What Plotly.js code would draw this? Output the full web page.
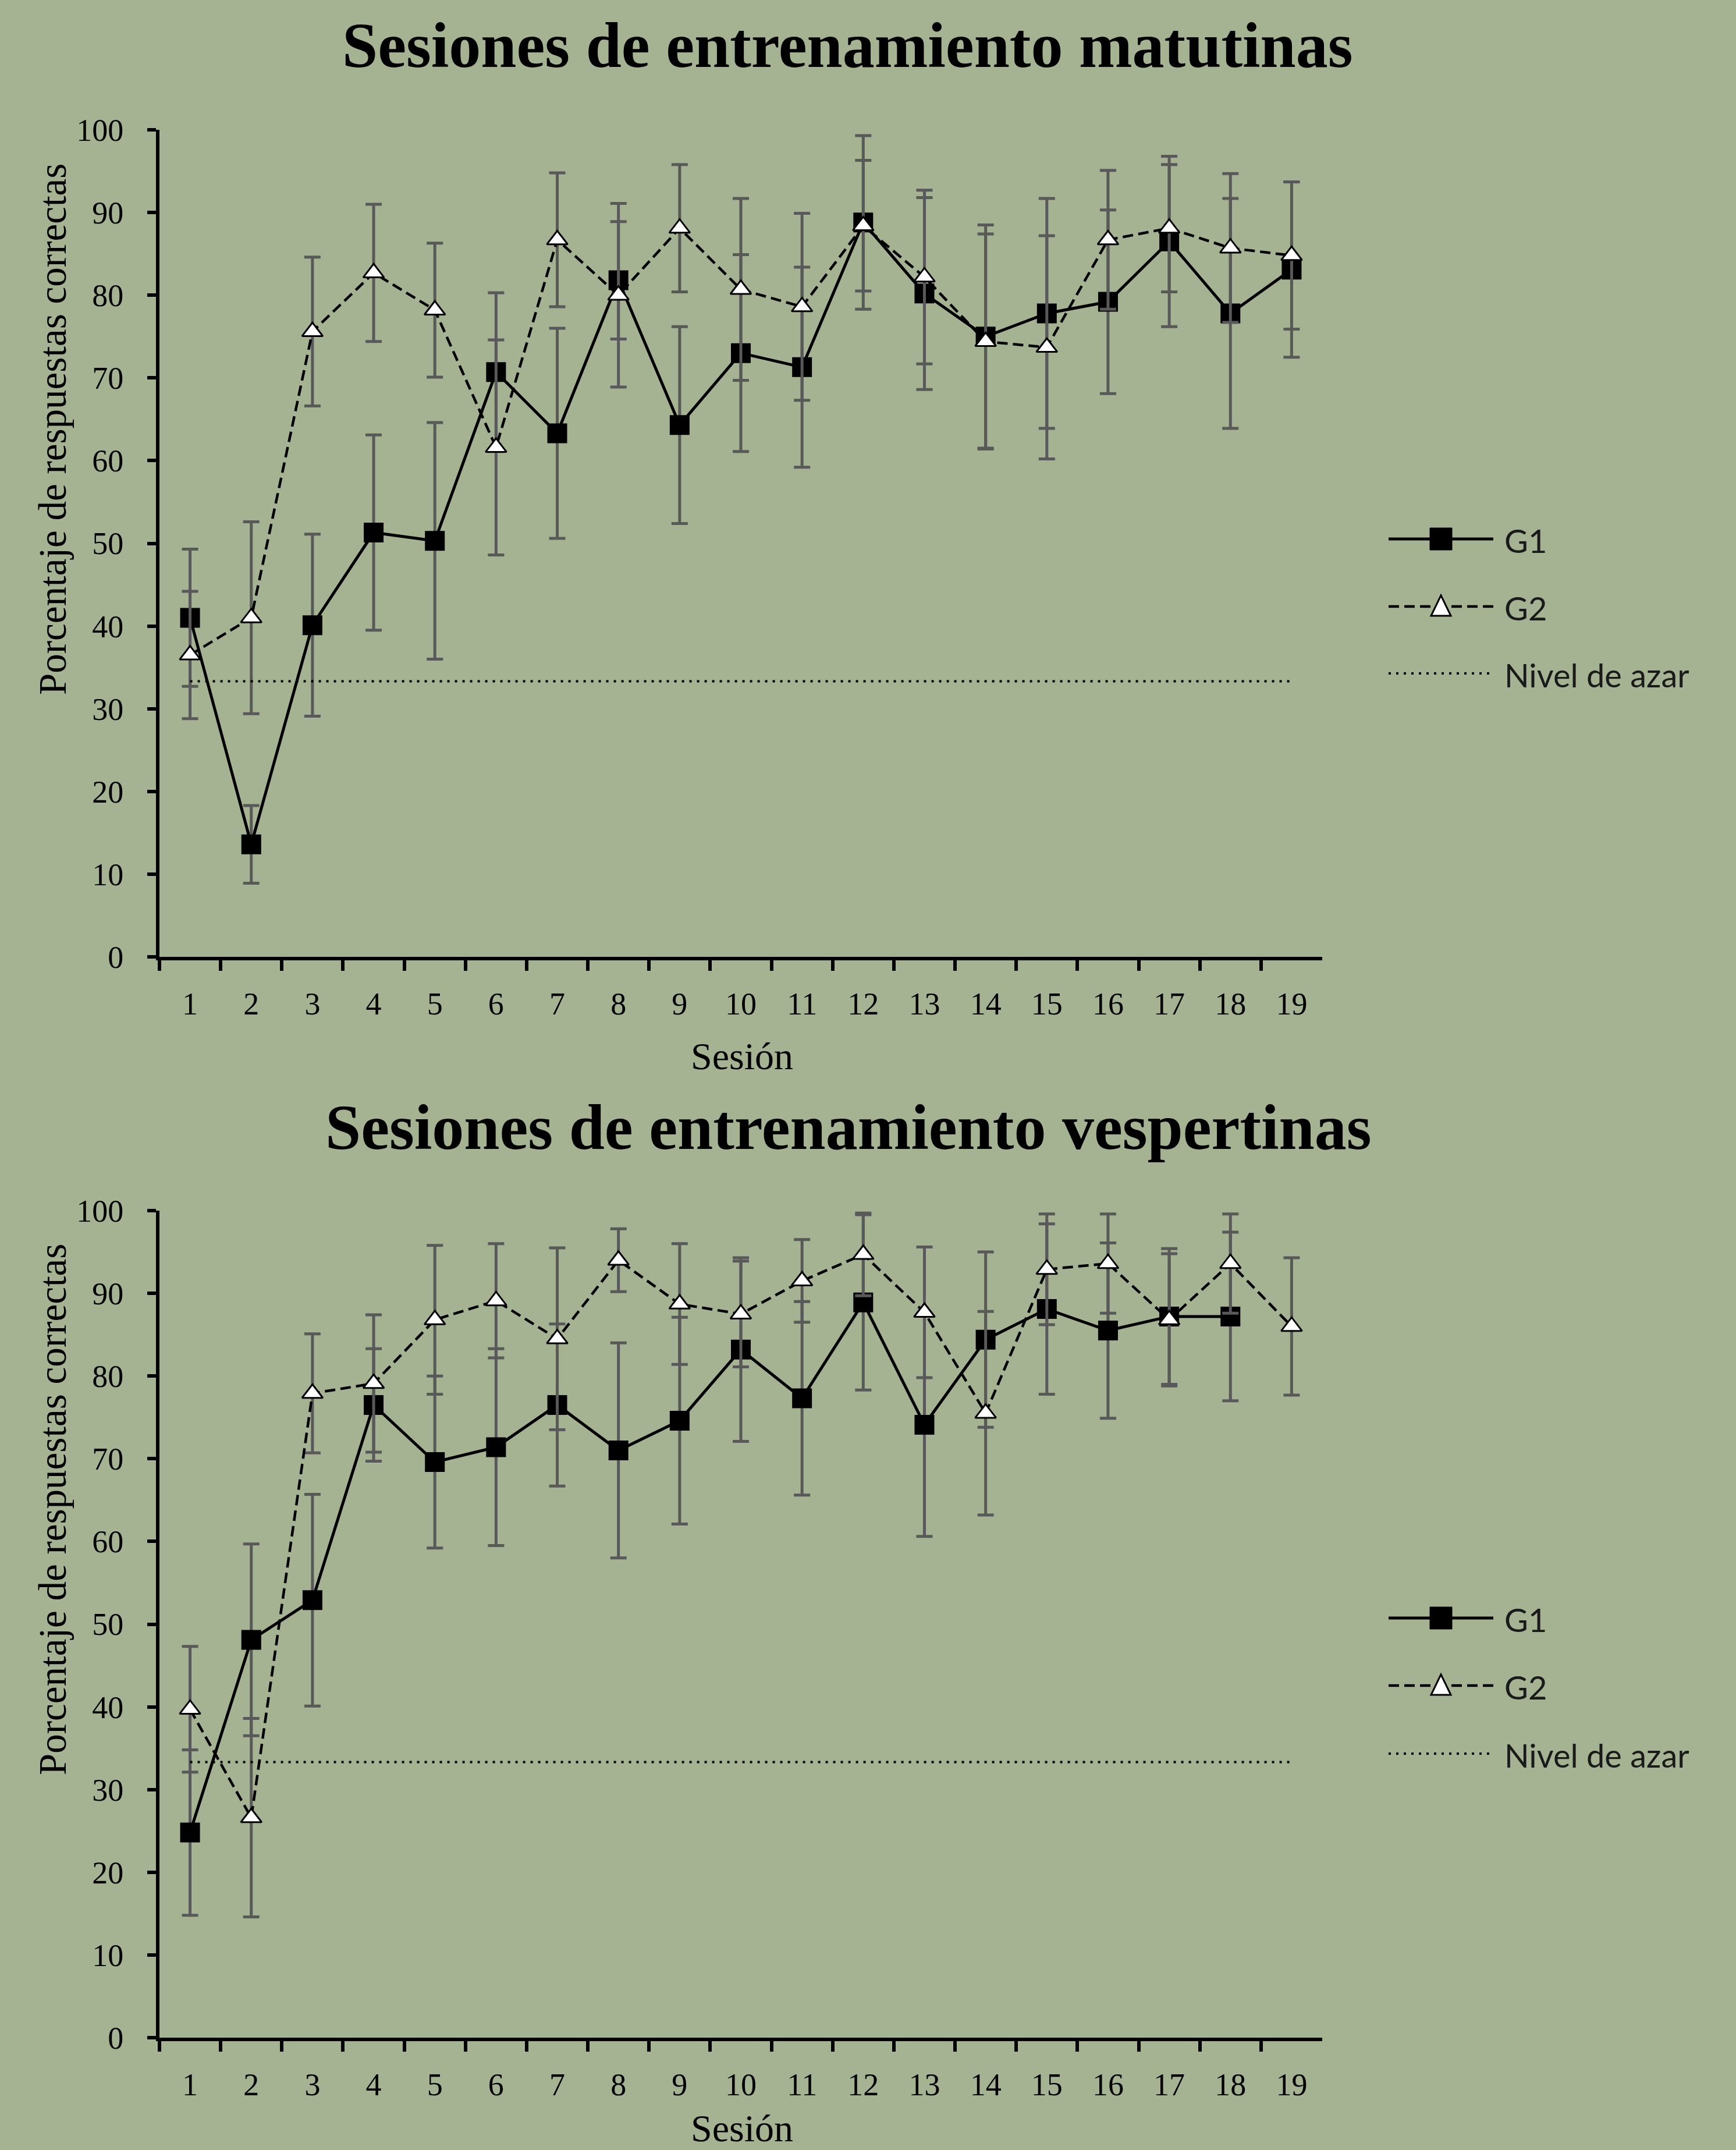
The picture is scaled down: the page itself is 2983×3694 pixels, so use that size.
<!DOCTYPE html>
<html>
<head>
<meta charset="utf-8">
<script src="https://cdn.plot.ly/plotly-3.0.1.min.js"></script>
<style>html,body{margin:0;padding:0;background:#a5b392;}#chart{width:2983px;height:3694px;}</style>
</head>
<body>
<div id="chart"></div>
<script>
// ---- data ----
const sessions = ["1","2","3","4","5","6","7","8","9","10","11","12","13","14","15","16","17","18","19"];

// Sesiones matutinas
const morningG1 = [41.0, 13.6, 40.1, 51.3, 50.3, 70.7, 63.3, 81.8, 64.3, 73.0, 71.3, 88.8, 80.2, 75.0, 77.8, 79.2, 86.5, 77.8, 83.1];
const morningG1Err = [8.3, 4.7, 11.0, 11.8, 14.3, 9.6, 12.7, 7.1, 11.9, 11.9, 12.1, 10.5, 11.6, 13.5, 13.9, 11.1, 10.3, 13.9, 10.6];
const morningG2 = [36.5, 41.0, 75.6, 82.7, 78.2, 61.6, 86.7, 80.0, 88.1, 80.7, 78.6, 88.4, 82.2, 74.4, 73.7, 86.7, 88.1, 85.7, 84.8];
const morningG2Err = [7.7, 11.6, 9.0, 8.3, 8.1, 13.0, 8.1, 11.1, 7.7, 11.0, 11.3, 7.9, 10.5, 13.0, 13.5, 8.4, 7.7, 9.0, 8.9];

// Sesiones vespertinas
const eveningG1 = [24.8, 48.1, 52.9, 76.5, 69.6, 71.4, 76.5, 71.0, 74.6, 83.2, 77.3, 88.9, 74.1, 84.4, 88.1, 85.5, 87.2, 87.2];
const eveningG1Err = [10.0, 11.6, 12.8, 6.8, 10.4, 11.9, 9.8, 13.0, 12.5, 11.1, 11.7, 10.6, 13.5, 10.6, 10.3, 10.6, 8.2, 10.2];
const eveningG2 = [39.7, 26.6, 77.9, 79.1, 86.8, 89.1, 84.5, 94.0, 88.7, 87.5, 91.5, 94.7, 87.7, 75.5, 92.9, 93.6, 86.8, 93.6, 86.0];
const eveningG2Err = [7.6, 12.0, 7.2, 8.3, 9.0, 6.9, 11.0, 3.8, 7.3, 6.4, 5.0, 5.0, 7.9, 12.3, 6.7, 6.0, 8.0, 6.0, 8.3];

// Nivel de azar
const chanceX = ["1", "19"];
const chanceY = [33.33, 33.33];

const titles = ["Sesiones de entrenamiento matutinas", "Sesiones de entrenamiento vespertinas"];
const yLabel = "Porcentaje de respuestas correctas";
const xLabel = "Sesión";
const seriesNames = ["G1", "G2", "Nivel de azar"];

// ---- styles ----
const BG = "#a5b392";
const ERR = "#595959";
const SERIF = "Liberation Serif, Times New Roman, serif";
const SANS = "Lato, Liberation Sans, sans-serif";
const G1_LINE = {color:"#000", width:5};
const G2_LINE = {color:"#000", width:4.5, dash:"18px,9px"};
const CH_LINE = {color:"#000", width:4, dash:"4px,9px"};

function errY(arr){ return {type:"data", array:arr, visible:true, color:ERR, thickness:5, width:14}; }

function groupTraces(g1, g1e, g2, g2e, xa, ya){
  return [
    {x: sessions.slice(0, g1.length), y: g1, name: seriesNames[0], type:"scatter", mode:"lines+markers",
     xaxis:xa, yaxis:ya, showlegend:false,
     line:G1_LINE, marker:{symbol:"square", size:32, color:"#000", line:{color:"#000", width:2}},
     error_y: errY(g1e)},
    {x: sessions.slice(0, g2.length), y: g2, name: seriesNames[1], type:"scatter", mode:"lines+markers",
     xaxis:xa, yaxis:ya, showlegend:false,
     line:G2_LINE, marker:{symbol:"triangle-up", size:31, color:"#fff", line:{color:"#000", width:3}},
     error_y: errY(g2e)},
    {x: chanceX, y: chanceY, name: seriesNames[2], type:"scatter", mode:"lines",
     xaxis:xa, yaxis:ya, showlegend:false, line:CH_LINE}
  ];
}

const data = [].concat(
  groupTraces(morningG1, morningG1Err, morningG2, morningG2Err, "x", "y"),
  groupTraces(eveningG1, eveningG1Err, eveningG2, eveningG2Err, "x2", "y2")
);

const W = 2983, H = 3694;
const px = v => v / W;
const py = v => 1 - v / H;

function xAxis(anchor){
  return {type:"category", categoryorder:"array", categoryarray:sessions, range:[-0.5, 18.5],
    domain:[px(274), px(2272)], anchor:anchor, tickson:"boundaries",
    ticks:"outside", ticklen:18, tickwidth:6, tickcolor:"#000",
    showline:true, linewidth:6, linecolor:"#000", showgrid:false, zeroline:false,
    tickfont:{family:SERIF, size:54, color:"#000"}, ticklabelstandoff:28, automargin:false, fixedrange:true};
}
function yAxis(top, bottom, anchor){
  return {range:[0,100], dtick:10, tick0:0, domain:[py(bottom), py(top)], anchor:anchor,
    ticks:"outside", ticklen:15, tickwidth:6, tickcolor:"#000",
    showline:true, linewidth:6, linecolor:"#000", showgrid:false, zeroline:false,
    tickfont:{family:SERIF, size:54, color:"#000"}, ticklabelstandoff:30, automargin:false, fixedrange:true};
}

const annotations = [
  {text:titles[0], x:px(1456), y:py(78), xref:"paper", yref:"paper", xanchor:"center", yanchor:"middle", showarrow:false,
   font:{family:SERIF, size:110, color:"#000", weight:"bold"}},
  {text:titles[1], x:px(1458), y:py(1937), xref:"paper", yref:"paper", xanchor:"center", yanchor:"middle", showarrow:false,
   font:{family:SERIF, size:110, color:"#000", weight:"bold"}},
  {text:yLabel, x:px(90), y:py(738), xref:"paper", yref:"paper", xanchor:"center", yanchor:"middle", showarrow:false, textangle:-90,
   font:{family:SERIF, size:67, color:"#000"}},
  {text:yLabel, x:px(90), y:py(2594), xref:"paper", yref:"paper", xanchor:"center", yanchor:"middle", showarrow:false, textangle:-90,
   font:{family:SERIF, size:67, color:"#000"}},
  {text:xLabel, x:px(1275), y:py(1814), xref:"paper", yref:"paper", xanchor:"center", yanchor:"middle", showarrow:false,
   font:{family:SERIF, size:66, color:"#000"}},
  {text:xLabel, x:px(1275), y:py(3656), xref:"paper", yref:"paper", xanchor:"center", yanchor:"middle", showarrow:false,
   font:{family:SERIF, size:66, color:"#000"}}
];

// ---- legend keys (one block per panel) ----
const shapes = [];
const legendRows = [[926, 1042, 1157], [2780, 2896, 3013]];
const KEY_X0 = 2386, KEY_X1 = 2566, KEY_C = 2476, TEXT_X = 2583;
legendRows.forEach(rows => {
  const lines = [G1_LINE, G2_LINE, CH_LINE];
  rows.forEach((ry, i) => {
    shapes.push({type:"line", xref:"paper", yref:"paper", x0:px(KEY_X0), x1:px(KEY_X1), y0:py(ry), y1:py(ry),
      line:{color:"#000", width:lines[i].width, dash:lines[i].dash || "solid"}, layer:"above"});
    annotations.push({text:seriesNames[i], x:px(TEXT_X), y:py(ry + 2), xref:"paper", yref:"paper",
      xanchor:"left", yanchor:"middle", showarrow:false, font:{family:SANS, size:56, color:"#1a1a1a"}});
  });
  // G1 key marker: black square
  shapes.push({type:"rect", xref:"paper", yref:"paper", x0:px(KEY_C-19), x1:px(KEY_C+19), y0:py(rows[0]+19), y1:py(rows[0]-19),
    fillcolor:"#000", line:{color:"#000", width:1}, layer:"above"});
  // G2 key marker: white triangle
  const t = rows[1];
  shapes.push({type:"path", xref:"paper", yref:"paper",
    path:"M" + px(KEY_C-17) + "," + py(t+16) + " L" + px(KEY_C+17) + "," + py(t+16) + " L" + px(KEY_C) + "," + py(t-19) + " Z",
    fillcolor:"#fff", line:{color:"#000", width:3}, layer:"above"});
});

const layout = {
  width:W, height:H, margin:{l:0, r:0, t:0, b:0, pad:0},
  paper_bgcolor:BG, plot_bgcolor:BG, showlegend:false,
  xaxis: xAxis("y"), yaxis: yAxis(223, 1644, "x"),
  xaxis2: xAxis("y2"), yaxis2: yAxis(2080, 3501, "x2"),
  annotations: annotations, shapes: shapes, hovermode:false
};

Plotly.newPlot("chart", data, layout, {displayModeBar:false, responsive:false, staticPlot:true});
</script>
</body>
</html>
